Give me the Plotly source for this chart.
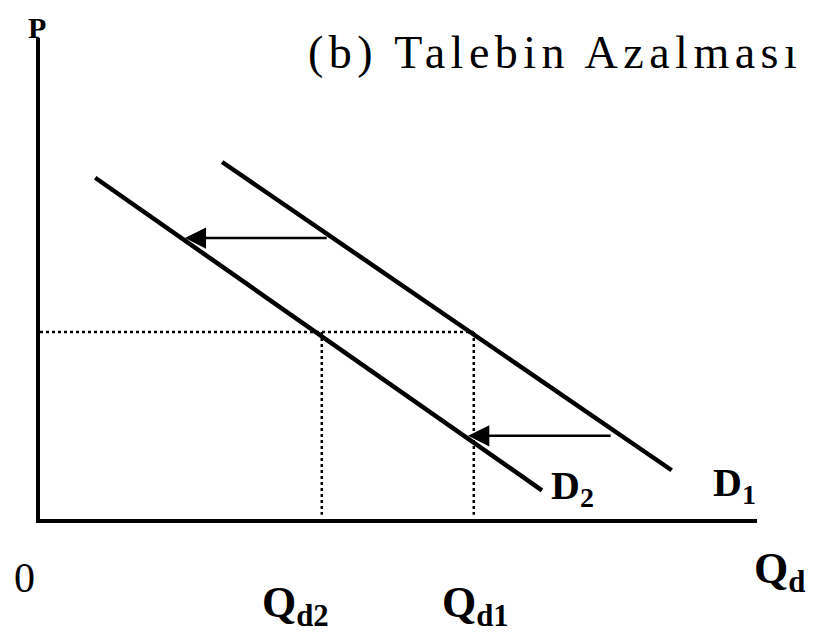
import plotly.graph_objects as go

# demand curve end points (quantity, price)
d1_q = [2.54, 8.81]
d1_p = [4.98, 0.68]
d2_q = [0.77, 7.00]
d2_p = [4.76, 0.40]

# equilibrium price and quantities
p0 = 2.61
qd2 = 3.93
qd1 = 6.05

# shift arrows: (from Q, to Q, at P)
arrow_from = [4.02, 7.98]
arrow_to = [2.02, 5.97]
arrow_p = [3.92, 1.16]

serif = 'Liberation Serif'

fig = go.Figure()

# demand curves
fig.add_trace(go.Scatter(x=d1_q, y=d1_p, mode='lines', line=dict(color='black', width=4.5)))
fig.add_trace(go.Scatter(x=d2_q, y=d2_p, mode='lines', line=dict(color='black', width=4.5)))

# dotted guides
fig.add_trace(go.Scatter(x=[0, qd1], y=[p0, p0], mode='lines',
                         line=dict(color='black', width=2.5, dash='dot')))
fig.add_trace(go.Scatter(x=[qd2, qd2], y=[p0, 0.06], mode='lines',
                         line=dict(color='black', width=2.5, dash='dot')))
fig.add_trace(go.Scatter(x=[qd1, qd1], y=[p0, 0.06], mode='lines',
                         line=dict(color='black', width=2.5, dash='dot')))

# shift arrows
for q0, q1, p in zip(arrow_from, arrow_to, arrow_p):
    fig.add_annotation(x=q1, y=p, ax=q0, ay=p, xref='x', yref='y', axref='x', ayref='y',
                       text='', showarrow=True, arrowhead=2, arrowsize=1.7,
                       arrowwidth=2.5, arrowcolor='black', standoff=0)

# P label sits at the very top edge
fig.add_annotation(x=-0.004, y=1.06, xref='paper', yref='paper', text='<b>P</b>',
                   showarrow=False, xanchor='center', yanchor='top',
                   font=dict(family=serif, size=30, color='black'))

# other labels (paper coordinates, outside the plot area)
labels = [
    dict(x=-0.022, y=-0.122, text='0', size=42),
    dict(x=1.032, y=-0.11, text='<b>Q<sub>d</sub></b>', size=44),
    dict(x=0.356, y=-0.18, text='<b>Q<sub>d2</sub></b>', size=44),
    dict(x=0.608, y=-0.18, text='<b>Q<sub>d1</sub></b>', size=44),
    dict(x=0.742, y=0.065, text='<b>D<sub>2</sub></b>', size=40),
    dict(x=0.968, y=0.07, text='<b>D<sub>1</sub></b>', size=40),
    dict(x=0.718, y=0.97,
         text='<span style="letter-spacing:5.5px">(b) Talebin Azalması</span>', size=46),
]
for lb in labels:
    fig.add_annotation(x=lb['x'], y=lb['y'], xref='paper', yref='paper', text=lb['text'],
                       showarrow=False, xanchor='center', yanchor='middle',
                       font=dict(family=serif, size=lb['size'], color='black'))

fig.update_layout(
    width=827, height=635,
    margin=dict(l=32, r=78, t=30, b=124),
    paper_bgcolor='white',
    plot_bgcolor='white',
    showlegend=False,
)
fig.update_xaxes(range=[0, 10], showgrid=False, zeroline=False, showticklabels=False,
                 showline=True, linecolor='black', linewidth=3.5, ticks='')
fig.update_yaxes(range=[0, 6.71], showgrid=False, zeroline=False, showticklabels=False,
                 showline=True, linecolor='black', linewidth=3.5, ticks='')

fig.write_html("out.html")
